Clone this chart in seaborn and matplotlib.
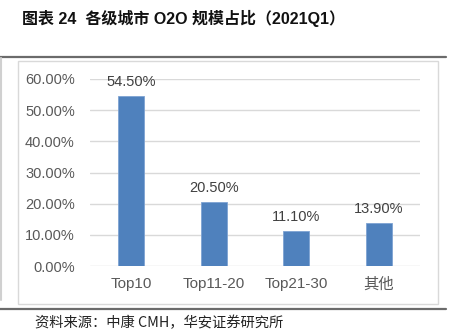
import matplotlib
matplotlib.use("Agg")
import matplotlib.pyplot as plt
from matplotlib.lines import Line2D
from matplotlib.patches import Rectangle
import seaborn as sns
import pandas as pd

categories = ["Top10", "Top11-20", "Top21-30", "其他"]
shares = [54.50, 20.50, 11.10, 13.90]
ytick_values = [0, 10, 20, 30, 40, 50, 60]
ytick_labels = ["0.00%", "10.00%", "20.00%", "30.00%", "40.00%", "50.00%", "60.00%"]

title_text = "图表 24  各级城市 O2O 规模占比（2021Q1）"
source_text = "资料来源：中康 CMH，华安证券研究所"

sns.set_theme(style="white")
plt.rcParams["font.family"] = ["Liberation Sans", "Noto Sans CJK SC", "DejaVu Sans"]

W, H = 457, 336
fig = plt.figure(figsize=(W / 100, H / 100), dpi=100)
fig.patch.set_facecolor("white")


def px_box(x0, y0, x1, y1):
    return [x0 / W, 1 - y1 / H, (x1 - x0) / W, (y1 - y0) / H]


# page decorations: top/bottom rules, left margin line, chart frame
fig.add_artist(Line2D([0, 446 / W], [1 - 57 / H] * 2, color="#6b6b6b", lw=1.6))
fig.add_artist(Line2D([0, 446 / W], [1 - 309 / H] * 2, color="#6b6b6b", lw=1.6))
fig.add_artist(Line2D([1 / W] * 2, [1 - 58 / H, 1 - 300 / H], color="#d0d0d0", lw=1.5))
fig.add_artist(Rectangle((18 / W, 1 - 304 / H), (438 - 18) / W, (304 - 61) / H,
                         transform=fig.transFigure, fill=False,
                         edgecolor="#d9d9d9", lw=1.0))

fig.text(22 / W, 1 - 18 / H, title_text, fontsize=11.5, fontweight="bold",
         color="#111111", va="center", ha="left",
         family=["Liberation Sans", "Noto Sans CJK SC"])
fig.text(35 / W, 1 - 323 / H, source_text, fontsize=10.3, color="#222222",
         va="center", ha="left", family=["Noto Sans CJK SC", "Liberation Sans"])

ax = fig.add_axes(px_box(90, 79, 420, 266))
df = pd.DataFrame({"category": categories, "share": shares})
sns.barplot(data=df, x="category", y="share", ax=ax, color="#4f81bd",
            width=0.315, edgecolor="#7ea3d3", linewidth=0.6, saturation=1)

ax.set_ylim(0, 60)
ax.set_yticks(ytick_values)
ax.set_yticklabels(ytick_labels)
ax.yaxis.grid(True, color="#d9d9d9", lw=1.0)
ax.set_axisbelow(True)
for s in ax.spines.values():
    s.set_visible(False)
ax.set_xlabel("")
ax.set_ylabel("")
ax.tick_params(axis="y", length=0, labelsize=10.5, colors="#595959", pad=11)
ax.tick_params(axis="x", length=0, labelsize=11, colors="#595959", pad=8)
ax.set_xlim(-0.5, len(categories) - 0.5)

for i, v in enumerate(shares):
    ax.annotate(f"{v:.2f}%", (i, v), xytext=(0, 5), textcoords="offset points",
                ha="center", va="bottom", fontsize=10.5, color="#404040")

fig.savefig("out.png", dpi=100, facecolor="white")
